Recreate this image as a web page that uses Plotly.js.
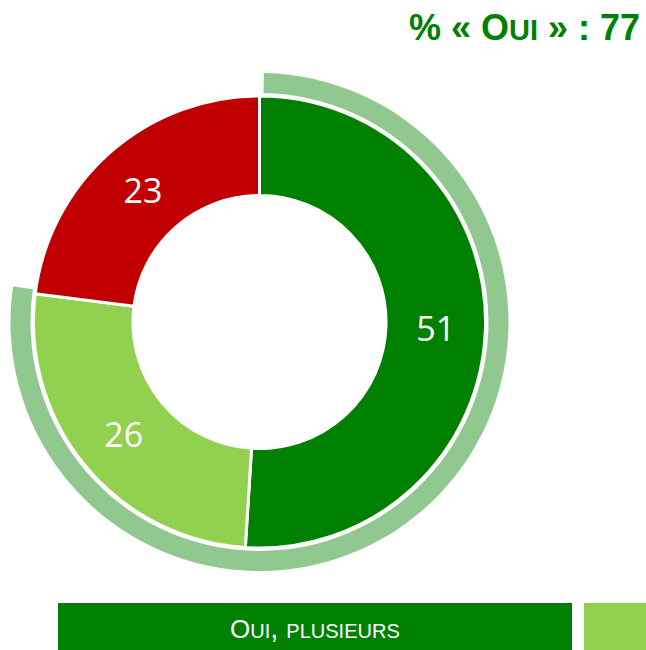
<!DOCTYPE html>
<html>
<head>
<meta charset="utf-8">
<script src="https://cdn.plot.ly/plotly-3.0.1.min.js"></script>
<style>html,body{margin:0;padding:0;background:#fff;} #chart{width:646px;height:650px;}</style>
</head>
<body>
<div id="chart"></div>
<script>
// Data
const categories = ["Oui, plusieurs", "Oui, un seul", "Non"];
const values = [51, 26, 23];
const colors = ["#008000", "#92d050", "#c00000"];
const ringValues = [51 + 26, 23];
const ringColors = ["#90c890", "rgba(0,0,0,0)"];
const legendLabel = categories[0];

const W = 646, H = 650;
const cx = 259.5, cy = 322;
const rIn = 226, rOut = 249;
function dom(r) {
  return {
    x: [(cx - r) / W, (cx + r) / W],
    y: [(H - cy - r) / H, (H - cy + r) / H]
  };
}
// first letter full size, remainder enlarged so synthesized small caps read larger
function smallCaps(s, big) {
  return s.charAt(0) + "<span style='font-size:" + big + "px'>" + s.slice(1) + "</span>";
}

const ring = {
  type: "pie",
  values: ringValues,
  marker: { colors: ringColors, line: { width: 0 } },
  hole: 229 / 249,
  sort: false,
  direction: "clockwise",
  rotation: 1,
  textinfo: "none",
  hoverinfo: "skip",
  showlegend: false,
  domain: dom(rOut)
};

const donut = {
  type: "pie",
  labels: categories,
  values: values,
  marker: { colors: colors, line: { color: "#ffffff", width: 3 } },
  hole: 0.56,
  sort: false,
  direction: "clockwise",
  rotation: 0,
  textinfo: "value",
  textposition: "inside",
  insidetextorientation: "horizontal",
  textfont: { family: "Open Sans, sans-serif", size: 34, color: "#ffffff" },
  showlegend: false,
  domain: dom(rIn)
};

const layout = {
  width: W, height: H,
  margin: { l: 0, r: 0, t: 0, b: 0 },
  paper_bgcolor: "#ffffff",
  showlegend: false,
  title: {
    text: "% « O<span style='font-size:42px'>ui</span> » : 77",
    x: 640 / W, xanchor: "right", xref: "paper",
    y: 1 - 27 / H, yanchor: "middle", yref: "container",
    font: { family: "Liberation Sans, Arial, sans-serif", size: 36, weight: 700, color: "#008000", variant: "small-caps" }
  },
  shapes: [
    { type: "rect", xref: "paper", yref: "paper", x0: 58 / W, x1: 572 / W, y0: -0.05, y1: 1 - 603 / H, fillcolor: colors[0], line: { width: 0 } },
    { type: "rect", xref: "paper", yref: "paper", x0: 584 / W, x1: 1.05, y0: -0.05, y1: 1 - 603 / H, fillcolor: colors[1], line: { width: 0 } }
  ],
  annotations: [
    { text: smallCaps(legendLabel, 29), xref: "paper", yref: "paper", x: 315 / W, y: 1 - 628 / H, xanchor: "center", yanchor: "middle", showarrow: false,
      font: { family: "Liberation Sans, Arial, sans-serif", size: 26, color: "#ffffff", variant: "small-caps" } }
  ]
};

Plotly.newPlot("chart", [ring, donut], layout, { displayModeBar: false, staticPlot: true });
</script>
</body>
</html>
